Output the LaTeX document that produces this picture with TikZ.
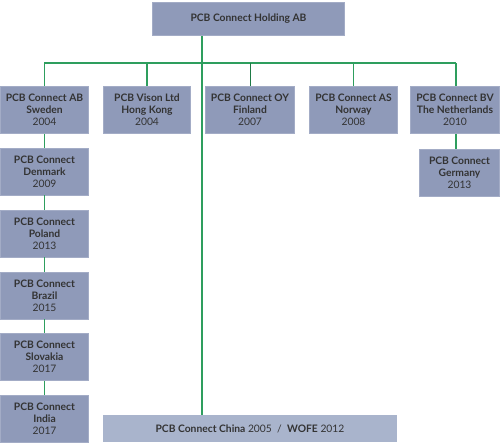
\documentclass[tikz,border=0pt]{standalone}
\usepackage{fontspec}
\setmainfont{Lato}
\definecolor{boxfill}{HTML}{8F9AB9}
\definecolor{boxline}{HTML}{A3ACC6}
\definecolor{chinafill}{HTML}{A9B4CC}
\definecolor{lnk}{HTML}{2E9E5E}
\definecolor{lnkdark}{HTML}{1E7A45}
\definecolor{txt}{HTML}{333333}
\begin{document}
\begin{tikzpicture}[x=1pt,y=-1pt,
  org/.style={rectangle,fill=boxfill,draw=boxline,line width=0.8pt,inner sep=0pt,
    minimum height=47pt,text=txt,align=center,font=\fontsize{10.3}{12}\selectfont},
  link/.style={draw=lnk,line width=1.7pt},
  thinlink/.style={draw=lnkdark,line width=1pt}]
\useasboundingbox (0,0) rectangle (500,443);
% top
\node[org,minimum width=192pt,minimum height=33pt] (top) at (248.5,19) {\textbf{PCB Connect Holding AB}};
% row 1
\node[org,minimum width=88pt] (se) at (44.5,110) {\textbf{PCB Connect AB}\\\textbf{Sweden}\\2004};
\node[org,minimum width=87pt] (hk) at (147,110) {\textbf{PCB Vison Ltd}\\\textbf{Hong Kong}\\2004};
\node[org,minimum width=89pt] (fi) at (250,110) {\textbf{PCB Connect OY}\\\textbf{Finland}\\2007};
\node[org,minimum width=88pt] (no) at (353.5,110) {\textbf{PCB Connect AS}\\\textbf{Norway}\\2008};
\node[org,minimum width=89pt] (nl) at (455,110) {\textbf{PCB Connect BV}\\\textbf{The Netherlands}\\2010};
\node[org,minimum width=80pt] (de) at (459.5,173) {\textbf{PCB Connect}\\\textbf{Germany}\\2013};
% left column
\node[org,minimum width=88pt] (dk) at (44.5,171.5) {\textbf{PCB Connect}\\\textbf{Denmark}\\2009};
\node[org,minimum width=88pt] (pl) at (44.5,233.5) {\textbf{PCB Connect}\\\textbf{Poland}\\2013};
\node[org,minimum width=88pt] (br) at (44.5,295.5) {\textbf{PCB Connect}\\\textbf{Brazil}\\2015};
\node[org,minimum width=88pt] (sk) at (44.5,357) {\textbf{PCB Connect}\\\textbf{Slovakia}\\2017};
\node[org,minimum width=88pt] (in) at (44.5,419) {\textbf{PCB Connect}\\\textbf{India}\\2017};
% china
\node[org,fill=chinafill,draw=none,minimum width=294pt,minimum height=27pt] (cn) at (250,428.5)
  {\textbf{PCB Connect China} 2005\ \ /\ \ \textbf{WOFE} 2012};
% connectors
\coordinate (hl) at (44,63);
\coordinate (hr) at (456,63);
\draw[link] (hl) -- (hr);
\draw[link] (se.north) -- (se.north |- hl);
\draw[link] (hk.north) -- (hk.north |- hl);
\draw[thinlink] (fi.north) -- (fi.north |- hl);
\draw[link] (no.north) -- (no.north |- hl);
\draw[link] (nl.north -| hr) -- (hr);
\draw[link] (top.south -| 202,0) -- (cn.north -| 202,0);
\draw[link] (nl.south -| hr) -- (de.north -| hr);
\draw[link] (se) -- (dk);
\draw[link] (dk) -- (pl);
\draw[link] (pl) -- (br);
\draw[link] (br) -- (sk);
\draw[link] (sk) -- (in);
\end{tikzpicture}
\end{document}
